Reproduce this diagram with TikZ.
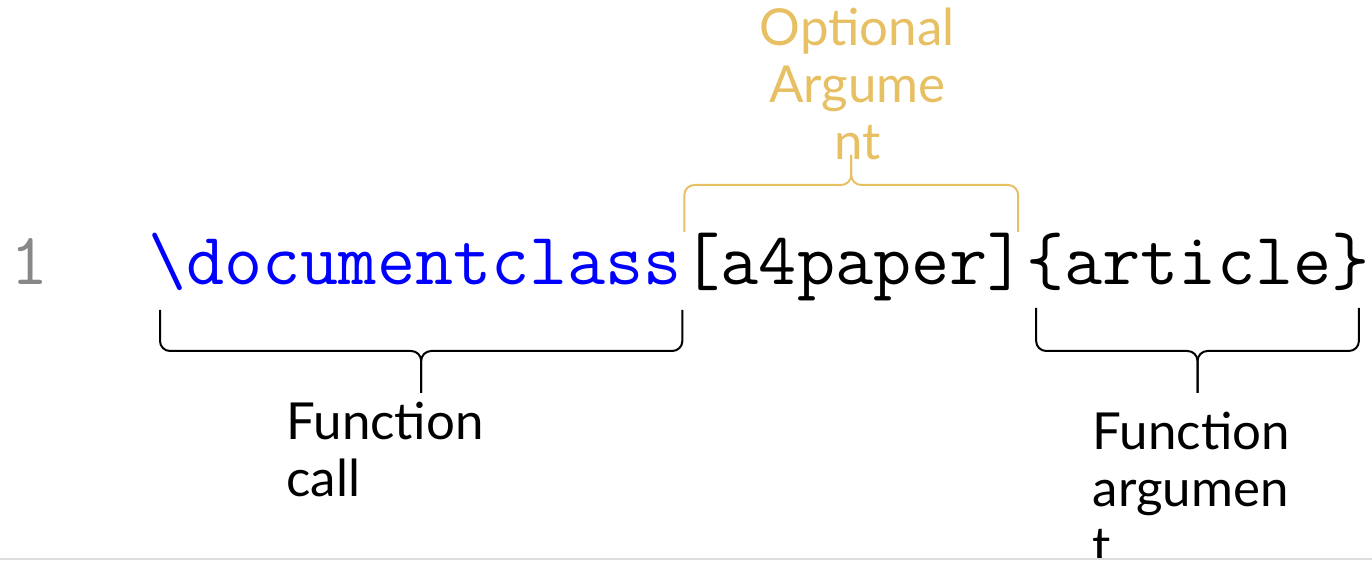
\documentclass[tikz,border=0pt]{standalone}
\usepackage{fontspec}
\setmainfont{Lato}
\usepackage{tikz}
\usetikzlibrary{positioning, calc}
\definecolor{azulComando}{HTML}{0000FF}
\definecolor{doradoOpcional}{HTML}{E8C064}
\definecolor{grisNumero}{HTML}{888888}
\definecolor{grisBorde}{HTML}{DDDDDD}

\begin{document}
\begin{tikzpicture}[x=0.5pt, y=0.5pt,
        codigo/.style={inner sep=0pt, font=\fontsize{37}{40}\selectfont\ttfamily},
        etiqueta/.style={inner sep=0pt, align=left, font=\fontsize{25.5}{28.5}\selectfont},
        llave/.style={line width=1pt, rounded corners=5pt},
        llaveOpc/.style={llave, draw=doradoOpcional}
    ]
        \useasboundingbox (0,0) rectangle (1372,561);
        \begin{scope}
        \clip (0,3) rectangle (1372,561);
        % linea de codigo
        \node[codigo, text=grisNumero, anchor=base west] (num) at (10,276) {1};
        \node[codigo, text=azulComando, anchor=base west] (cmd) at (148,276) {\textbackslash documentclass};
        \node[codigo, anchor=base west] (opt) at (cmd.base east) {[a4paper]};
        \node[codigo, anchor=base west] (arg) at (opt.base east) {\{article\}};

        % llave inferior: funcion
        \coordinate (b1l) at ($(cmd.base west)+(12,-25)$);
        \coordinate (b1r) at ($(cmd.base east)+(0,-25)$);
        \coordinate (b1m) at ($(b1l)!.5!(b1r)+(0,-41)$);
        \coordinate (b1t) at ($(b1m)+(0,-42)$);
        \draw[llave] (b1l) |- (b1m) -- (b1t);
        \draw[llave] (b1r) |- (b1m) -- (b1t);

        % llave superior: opcional
        \coordinate (b2l) at ($(opt.base west)+(2,53)$);
        \coordinate (b2r) at ($(opt.base east)+(-8,53)$);
        \coordinate (b2m) at ($(b2l)!.5!(b2r)+(0,47)$);
        \coordinate (b2t) at ($(b2m)+(0,30)$);
        \draw[llaveOpc] (b2l) |- (b2m) -- (b2t);
        \draw[llaveOpc] (b2r) |- (b2m) -- (b2t);

        % llave inferior: argumento
        \coordinate (b3l) at ($(arg.base west)+(10,-23)$);
        \coordinate (b3r) at ($(arg.base east)+(-11,-23)$);
        \coordinate (b3m) at ($(b3l)!.5!(b3r)+(0,-43)$);
        \coordinate (b3t) at ($(b3m)+(0,-42)$);
        \draw[llave] (b3l) |- (b3m) -- (b3t);
        \draw[llave] (b3r) |- (b3m) -- (b3t);

        \node[etiqueta, anchor=base west] (lblCmd) at ($(b1t)+(-135,-104)$) {Function\\call};
        \node[etiqueta, align=center, text=doradoOpcional, anchor=base] (lblOpt) at ($(b2t)+(6,-5)$) {Optional\\Argume\\nt};
        \node[etiqueta, anchor=base west] (lblArg) at ($(b3t)+(-105,-171)$) {Function\\argumen\\t};
        \end{scope}
        \draw[grisBorde, line width=1pt] (0,1.5) -- (1372,1.5);
    \end{tikzpicture}
\end{document}
